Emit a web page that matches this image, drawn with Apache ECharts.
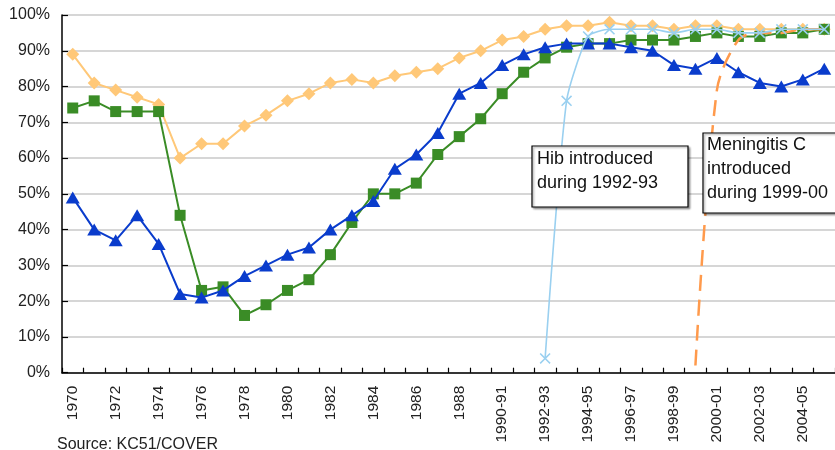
<!DOCTYPE html>
<html>
<head>
<meta charset="utf-8">
<script src="https://cdn.jsdelivr.net/npm/echarts@6/dist/echarts.min.js"></script>
<style>
html,body{margin:0;padding:0;background:#fff;}
#chart{width:835px;height:450px;}
</style>
</head>
<body>
<div id="chart"></div>
<script>
var categories = ['1970','1971','1972','1973','1974','1975','1976','1977','1978','1979',
  '1980','1981','1982','1983','1984','1985','1986','1987','1988','1989',
  '1990-91','1991-92','1992-93','1993-94','1994-95','1995-96','1996-97','1997-98',
  '1998-99','1999-00','2000-01','2001-02','2002-03','2003-04','2004-05','2005-06'];

var diamondSeries = [89,81,79,77,75,60,64,64,69,72,76,78,81,82,81,83,84,85,88,90,
  93,94,96,97,97,98,97,97,96,97,97,96,96,96,96,96];

var squareSeries = [74,76,73,73,73,44,23,24,16,19,23,26,33,42,50,50,53,61,66,71,
  78,84,88,91,92,92,93,93,93,94,95,94,94,95,95,96];

var triangleSeries = [49,40,37,44,36,22,21,23,27,30,33,35,40,44,48,57,61,67,78,81,
  86,89,91,92,92,92,91,90,86,85,88,84,81,80,82,85];

var hibSeries = [null,null,null,null,null,null,null,null,null,null,
  null,null,null,null,null,null,null,null,null,null,
  null,null,4,76,94,96,96,96,95,96,96,95,95,96,96,96];

var menCSeries = [null,null,null,null,null,null,null,null,null,null,
  null,null,null,null,null,null,null,null,null,null,
  null,null,null,null,null,null,null,null,null,2,79,93,95,95,96,96];

var yTicks = {min: 0, max: 100, interval: 10};

var hibNote = 'Hib introduced\nduring 1992-93';
var menCNote = 'Meningitis C\nintroduced\nduring 1999-00';
var sourceNote = 'Source: KC51/COVER';

var crossPath = 'path://M0,1L1,0L5,4L9,0L10,1L6,5L10,9L9,10L5,6L1,10L0,9L4,5Z';

var chart = echarts.init(document.getElementById('chart'), null, {renderer: 'canvas'});
var font = 'Liberation Sans, Arial, sans-serif';

chart.setOption({
  animation: false,
  backgroundColor: '#ffffff',
  grid: {left: 62, right: 0, top: 15, bottom: 77.3, containLabel: false},
  xAxis: {
    type: 'category',
    data: categories,
    boundaryGap: true,
    axisLine: {lineStyle: {color: '#000', width: 1.5}},
    axisTick: {show: true, inside: true, length: 5, interval: 0, lineStyle: {color: '#000', width: 1.2}},
    axisLabel: {rotate: 90, interval: 1, margin: 13, fontSize: 15.5, color: '#222', fontFamily: font},
    splitLine: {show: false}
  },
  yAxis: {
    type: 'value',
    min: yTicks.min, max: yTicks.max, interval: yTicks.interval,
    axisLine: {show: true, lineStyle: {color: '#000', width: 1.5}},
    axisTick: {show: true, inside: true, length: 6, lineStyle: {color: '#000', width: 1.2}},
    axisLabel: {formatter: '{value}%', margin: 12, fontSize: 16, color: '#222', fontFamily: font},
    splitLine: {show: true, lineStyle: {color: '#c8c8c8', width: 1.5}}
  },
  series: [
    {
      type: 'line', data: diamondSeries, symbol: 'diamond', symbolSize: 13,
      lineStyle: {color: '#ffc878', width: 2}, itemStyle: {color: '#ffc878'}, z: 2
    },
    {
      type: 'line', data: squareSeries, symbol: 'rect', symbolSize: 11,
      lineStyle: {color: '#3a8c26', width: 2}, itemStyle: {color: '#3a8c26'}, z: 3
    },
    {
      type: 'line', data: triangleSeries, symbol: 'triangle', symbolSize: [14, 12],
      lineStyle: {color: '#0a3ccc', width: 2}, itemStyle: {color: '#0a3ccc'}, z: 4
    },
    {
      type: 'line', data: menCSeries, symbol: 'none', smooth: 0.3, connectNulls: false,
      lineStyle: {color: '#ff9a4c', width: 2.5, type: [16, 9], cap: 'butt'}, z: 5
    },
    {
      type: 'line', data: hibSeries, symbol: crossPath, symbolSize: 11, smooth: 0.2,
      lineStyle: {color: '#9ad0f0', width: 1.6}, itemStyle: {color: '#9ad0f0'}, z: 6
    }
  ],
  graphic: [
    {
      type: 'rect', z: 100,
      shape: {x: 532, y: 146, width: 156, height: 61},
      style: {fill: '#fff', stroke: '#000', lineWidth: 1.2, shadowBlur: 2, shadowOffsetX: 1.5, shadowOffsetY: 1.5, shadowColor: 'rgba(0,0,0,0.35)'}
    },
    {
      type: 'text', z: 101, x: 537, y: 147,
      style: {text: hibNote, font: '18px ' + font, fill: '#111', lineHeight: 24, textVerticalAlign: 'top'}
    },
    {
      type: 'rect', z: 100,
      shape: {x: 703, y: 133, width: 140, height: 80},
      style: {fill: '#fff', stroke: '#000', lineWidth: 1.2, shadowBlur: 2, shadowOffsetX: 1.5, shadowOffsetY: 1.5, shadowColor: 'rgba(0,0,0,0.35)'}
    },
    {
      type: 'text', z: 101, x: 707, y: 133,
      style: {text: menCNote, font: '18px ' + font, fill: '#111', lineHeight: 24, textVerticalAlign: 'top'}
    },
    {
      type: 'text', z: 101, x: 57, y: 437,
      style: {text: sourceNote, font: '16px ' + font, fill: '#222', textVerticalAlign: 'top'}
    }
  ]
});
</script>
</body>
</html>
